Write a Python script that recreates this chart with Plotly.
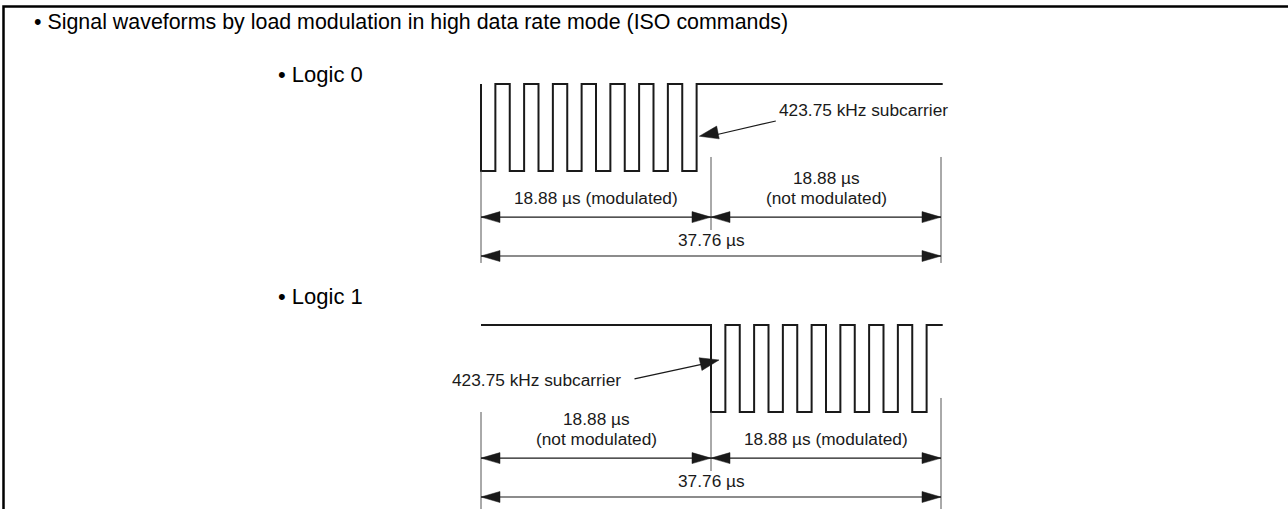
import plotly.graph_objects as go

# ---------------- data ----------------
bit_period_us = 37.76          # one bit
half_bit_us = 18.88            # modulated / not-modulated half
half_cycle_us = 1.18           # half period of the 423.75 kHz subcarrier
line_tail_us = 0.14            # waveform line runs slightly past the bit end
subcarrier_label = "423.75 kHz subcarrier"
title_text = "\u2022 Signal waveforms by load modulation in high data rate mode (ISO commands)"
panel_labels = ["\u2022 Logic 0", "\u2022 Logic 1"]
# levels of the successive subcarrier half cycles (0 = low, 1 = high)
logic0_sub_levels = [0, 1, 0, 1, 0, 1, 0, 1, 0, 1, 0, 1, 0, 1, 0]
logic1_sub_levels = [0, 1, 0, 1, 0, 1, 0, 1, 0, 1, 0, 1, 0, 1, 0]
modulation_start_us = [0.0, 18.88]     # where the subcarrier burst begins
half_labels = [["18.88 \u00b5s (modulated)", "18.88 \u00b5s|(not modulated)"],
               ["18.88 \u00b5s|(not modulated)", "18.88 \u00b5s (modulated)"]]
total_label = "37.76 \u00b5s"

# ---------------- layout constants ----------------
W, H = 1288, 509
T0_PX = 481.0
PX_PER_US = 230.0 / 18.88
LEVEL_PX = 87.0
PANEL_LOW_PX = [171.0, 412.0]
INK = "#1a1a1a"
FONT = "Liberation Sans, Arial, Helvetica, sans-serif"
SMALL = 17.3

ROW_TXT1 = -0.086
ROW_TXT2 = -0.314
ROW_ARW1 = -0.53
ROW_TOT = -0.79
ROW_ARW2 = -0.977


def t_of(px):
    return (px - T0_PX) / PX_PER_US


def px_x(t):
    return T0_PX + t * PX_PER_US


def px_y(lv, p):
    return PANEL_LOW_PX[p] - lv * LEVEL_PX


def lv_of(py, p):
    return (PANEL_LOW_PX[p] - py) / LEVEL_PX


yname = ["y", "y2"]

fig = go.Figure()


def waveform(levels, start, p):
    xs, ys = [0.0], [1]
    t = start
    for lv in levels:
        xs.append(t)
        ys.append(lv)
        t += half_cycle_us
    xs.append(t)
    ys.append(1)
    xs.append(bit_period_us + line_tail_us)
    ys.append(1)
    fig.add_trace(go.Scatter(x=xs, y=ys, mode="lines", yaxis=yname[p],
                             line=dict(color=INK, width=2, shape="hv"),
                             hoverinfo="skip"))


def seg(x0, y0, x1, y1, p, width=1.2, color=INK):
    fig.add_trace(go.Scatter(x=[x0, x1], y=[y0, y1], mode="lines", yaxis=yname[p],
                             line=dict(color=color, width=width), hoverinfo="skip"))


def head(tip_t, tip_lv, from_t, from_lv, p, L=19.0, Wd=11.0):
    # triangle built in pixel space, then mapped back to axis units
    tx, ty = px_x(tip_t), px_y(tip_lv, p)
    fx, fy = px_x(from_t), px_y(from_lv, p)
    dx, dy = tx - fx, ty - fy
    n = (dx * dx + dy * dy) ** 0.5
    ux, uy = dx / n, dy / n
    bx, by = tx - ux * L, ty - uy * L
    vx, vy = -uy, ux
    pts = [(tx, ty), (bx + vx * Wd / 2, by + vy * Wd / 2), (bx - vx * Wd / 2, by - vy * Wd / 2), (tx, ty)]
    fig.add_trace(go.Scatter(x=[t_of(a) for a, b in pts], y=[lv_of(b, p) for a, b in pts],
                             mode="lines", fill="toself", fillcolor=INK, yaxis=yname[p],
                             line=dict(color=INK, width=0.5), hoverinfo="skip"))


def dim_arrow(t0, t1, lv, p):
    seg(t0, lv, t1, lv, p, width=1.2)
    head(t0, lv, t1, lv, p)
    head(t1, lv, t0, lv, p)


def text(t, lv, s, p, size=SMALL, xanchor="center"):
    fig.add_annotation(x=t, y=lv, xref="x", yref=yname[p], text=s, showarrow=False,
                       xanchor=xanchor, yanchor="middle", borderpad=0,
                       font=dict(family=FONT, size=size, color=INK))


# waveforms
waveform(logic0_sub_levels, modulation_start_us[0], 0)
waveform(logic1_sub_levels, modulation_start_us[1], 1)

# extension lines (t, top level, bottom level) per panel
ext = [[(0.0, 0.0, -1.057), (half_bit_us, 0.161, -0.678), (bit_period_us, 0.161, -1.057)],
       [(0.0, 0.0, -1.25), (half_bit_us, 0.0, -0.678), (bit_period_us, 0.161, -1.25)]]
for p in (0, 1):
    for t, a, b in ext[p]:
        seg(t, a, t, b, p, width=1, color="#555555")
    dim_arrow(0.0, half_bit_us, ROW_ARW1, p)
    dim_arrow(half_bit_us, bit_period_us, ROW_ARW1, p)
    dim_arrow(0.0, bit_period_us, ROW_ARW2, p)
    text(bit_period_us / 2, ROW_TOT, total_label, p)
    for k, lab in enumerate(half_labels[p]):
        mid = half_bit_us * (k + 0.5)
        if "|" in lab:
            a, b = lab.split("|")
            text(mid, ROW_TXT1, a, p)
            text(mid, ROW_TXT2, b, p)
        else:
            text(mid, ROW_TXT2, lab, p)

# subcarrier call-outs
seg(24.2, 0.575, 19.4, 0.42, 0)
head(17.92, 0.40, 24.2, 0.575, 0, L=19, Wd=13)
text(24.38, 0.70, subcarrier_label, 0, xanchor="left")

seg(12.6, 0.38, 18.2, 0.55, 1)
head(19.54, 0.598, 12.6, 0.38, 1, L=19, Wd=13)
text(11.55, 0.37, subcarrier_label, 1, xanchor="right")

# title and panel labels
fig.add_annotation(x=32 / W, y=1 - 22 / H, xref="paper", yref="paper", text=title_text,
                   showarrow=False, xanchor="left", yanchor="middle",
                   font=dict(family=FONT, size=21.4, color="#000"))
for p, lab in enumerate(panel_labels):
    fig.add_annotation(x=276 / W, y=1 - [74, 296][p] / H, xref="paper", yref="paper", text=lab,
                       showarrow=False, xanchor="left", yanchor="middle",
                       font=dict(family=FONT, size=22, color="#000"))

# frame (left and top edges visible)
fig.add_shape(type="path", xref="paper", yref="paper",
              path="M {x},{yb} L {x},{yt} L {xr},{yt}".format(x=3.5 / W, yb=-0.1, yt=1 - 6.5 / H, xr=1.1),
              line=dict(color="#000", width=2.5), layer="above")

fig.update_layout(
    width=W, height=H, margin=dict(l=0, r=0, t=0, b=0),
    paper_bgcolor="white", plot_bgcolor="white", showlegend=False,
    xaxis=dict(range=[t_of(0), t_of(W)], visible=False, showgrid=False, zeroline=False, fixedrange=True),
    yaxis=dict(range=[lv_of(H, 0), lv_of(0, 0)], visible=False, showgrid=False, zeroline=False),
    yaxis2=dict(range=[lv_of(H, 1), lv_of(0, 1)], visible=False, showgrid=False, zeroline=False,
                overlaying="y"),
)

fig.write_html("out.html", config={"displayModeBar": False},
               post_script="document.body.style.margin='0px';document.body.style.overflow='hidden';")
